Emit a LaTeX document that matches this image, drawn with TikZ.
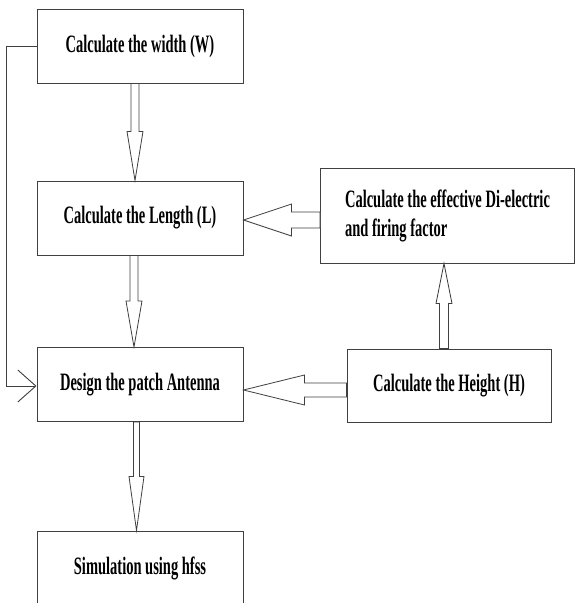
\documentclass[tikz,border=0pt]{standalone}
\usepackage{fontspec}
\setmainfont{Liberation Serif}[FakeStretch=0.58]
\usetikzlibrary{arrows.meta,positioning,calc}
\definecolor{linecolor}{rgb}{0.25,0.25,0.25}
\tikzset{
	stage/.style={
		rectangle,
		draw=linecolor,
		line width=1pt,
		minimum width=206pt,
		minimum height=74pt,
		font=\fontsize{25}{29}\selectfont\bfseries,
		text centered
	},
	hollow/.style={
		draw=linecolor,
		line width=0.8pt,
		fill=white,
		line join=miter
	},
	feedback/.style={
		draw=linecolor,
		line width=0.9pt,
		-{Straight Barb[length=18pt,width=32pt]}
	},
}
% block arrows: from, to, shift, head length, head half width, shaft half width
\newcommand{\flowv}[6]{%
	\draw[hollow] ([xshift=#3]#2) coordinate (tip) -- ++(#5,#4) -- ++(#6-#5,0)
		-- ($(tip |- #1)+(#6,0)$) -- ($(tip |- #1)+(-#6,0)$)
		-- ($(tip)+(-#6,#4)$) -- ($(tip)+(-#5,#4)$) -- cycle;}
\newcommand{\flowh}[6]{%
	\draw[hollow] ([yshift=#3]#2) coordinate (tip) -- ++(#4,#5) -- ++(0,#6-#5)
		-- ($(tip -| #1)+(0,#6)$) -- ($(tip -| #1)+(0,-#6)$)
		-- ($(tip)+(#4,-#6)$) -- ($(tip)+(#4,-#5)$) -- cycle;}

\begin{document}
\begin{tikzpicture}[x=1pt,y=1pt,on grid]
	\clip (0,0) rectangle (576,-603);
	\node[stage] (width) at (140,-46) {Calculate the width (W)};
	\node[stage] (length) [below=172pt of width] {Calculate the Length (L)};
	\node[stage] (design) [below=166.5pt of length] {Design the patch Antenna};
	\node[stage] (simul) [below=183.5pt of design] {Simulation using hfss};
	\node[stage,minimum width=254pt,minimum height=95pt,align=left] (eff) [right=307.5pt of length,yshift=2.5pt] {Calculate the effective Di-electric\\and firing factor};
	\node[stage,minimum width=204pt,minimum height=73pt] (height) [right=309pt of design,yshift=-1pt] {Calculate the Height (H)};
	\draw[feedback] (width.west) -- ++(-30pt,0) |- ([yshift=-1.5pt]design.west);
	\flowv{width.south}{length.north}{-5pt}{49pt}{8pt}{4pt}
	\flowv{length.south}{design.north}{-6pt}{46pt}{8pt}{4pt}
	\flowv{design.south}{simul.north}{-3.5pt}{54pt}{7.5pt}{3pt}
	\flowv{height.north}{eff.south}{-3.5pt}{-40pt}{8pt}{4.5pt}
	\flowh{eff.west}{length.east}{-2pt}{48pt}{16pt}{8pt}
	\flowh{height.west}{design.east}{-5.5pt}{61pt}{15pt}{7pt}
\end{tikzpicture}
\end{document}
